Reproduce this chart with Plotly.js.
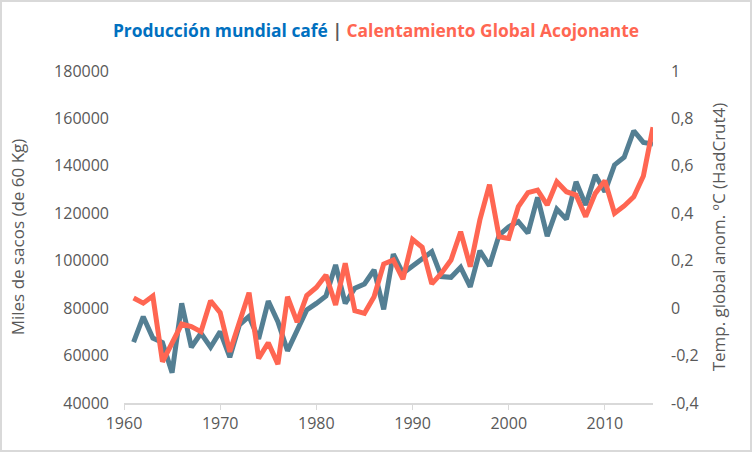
<!DOCTYPE html>
<html>
<head>
<meta charset="utf-8">
<script src="https://cdn.plot.ly/plotly-3.0.1.min.js"></script>
<style>html,body{margin:0;padding:0;background:#fff;}#chart{width:752px;height:452px;}</style>
</head>
<body>
<div id="chart"></div>
<script>
const years = [1961,1962,1963,1964,1965,1966,1967,1968,1969,1970,1971,1972,1973,1974,1975,1976,1977,1978,1979,1980,1981,1982,1983,1984,1985,1986,1987,1988,1989,1990,1991,1992,1993,1994,1995,1996,1997,1998,1999,2000,2001,2002,2003,2004,2005,2006,2007,2008,2009,2010,2011,2012,2013,2014,2015];
const coffeeProduction = [65700,76400,67400,65500,52800,82000,63500,69400,63500,70100,59300,73000,76500,67000,83000,74300,62000,70800,79200,82000,85100,98200,82000,88400,90200,96100,79500,102800,94700,97800,100600,103800,93300,93000,97200,89000,104200,97800,110800,114300,116500,111600,126700,110400,121700,117500,133300,123500,136100,129100,140400,143600,154800,149900,149200];
const tempAnomaly = [0.043,0.021,0.051,-0.226,-0.147,-0.067,-0.078,-0.099,0.031,-0.019,-0.184,-0.060,0.065,-0.212,-0.146,-0.236,0.048,-0.059,0.053,0.087,0.140,0.013,0.189,-0.011,-0.022,0.048,0.186,0.203,0.122,0.290,0.257,0.102,0.147,0.203,0.322,0.175,0.372,0.521,0.301,0.294,0.428,0.487,0.498,0.435,0.533,0.491,0.477,0.386,0.484,0.537,0.400,0.431,0.470,0.557,0.763];
const xTickVals = [1960,1970,1980,1990,2000,2010];
const coffeeTickVals = [40000,60000,80000,100000,120000,140000,160000,180000];
const tempTickVals = [-0.4,-0.2,0,0.2,0.4,0.6,0.8,1];
const tempTickText = ['-0,4','-0,2','0','0,2','0,4','0,6','0,8','1'];

const W = 752, H = 452;
const M = {l:124, r:99, t:71, b:49, pad:0};
const pw = W - M.l - M.r, ph = H - M.t - M.b;
const FONT = 'Open Sans, Noto Sans, sans-serif';
const GREY = '#595959';

const traces = [
  {x: years, y: coffeeProduction, type:'scatter', mode:'lines', name:'Producción mundial café',
   line:{color:'#547f93', width:5}, yaxis:'y'},
  {x: years, y: tempAnomaly, type:'scatter', mode:'lines', name:'Calentamiento Global Acojonante',
   line:{color:'#ff6652', width:5}, yaxis:'y2'}
];

const layout = {
  width: W, height: H, margin: M,
  paper_bgcolor:'#fff', plot_bgcolor:'#fff',
  showlegend:false,
  font:{family:FONT, color:GREY, size:16},
  title:{
    text:'<b><span style="color:#0070c0">Producción mundial café</span> <span style="color:#595959">|</span> <span style="color:#ff6652">Calentamiento Global Acojonante</span></b>',
    font:{family:FONT, size:17.4}, x:0.5, xanchor:'center', y:1-31/H, yanchor:'middle', yref:'container', xref:'container'
  },
  xaxis:{
    range:[1960,2015], tickvals:xTickVals, ticks:'outside', ticklen:5, tickcolor:'#d9d9d9',
    showline:true, linecolor:'#d9d9d9', linewidth:1.5, showgrid:false, zeroline:false,
    tickfont:{family:FONT, size:16, color:GREY}
  },
  yaxis:{
    range:[40000,180000], tickvals:coffeeTickVals, tickformat:'d', showgrid:false, zeroline:false,
    showline:false, ticks:'', ticklabelstandoff:14,
    tickfont:{family:FONT, size:16, color:GREY},
    title:{text:'Miles de sacos (de 60 Kg)', font:{family:FONT, size:17, color:GREY}, standoff:25}
  },
  yaxis2:{
    range:[-0.4,1], tickvals:tempTickVals, ticktext:tempTickText, overlaying:'y', side:'right',
    showgrid:false, zeroline:false, showline:false, ticks:'', ticklabelstandoff:17,
    tickfont:{family:FONT, size:16, color:GREY},
    title:{text:'Temp. global anom. ºC (HadCrut4)', font:{family:FONT, size:17, color:GREY}, standoff:15}
  },
  shapes:[{
    type:'rect', xref:'paper', yref:'paper', layer:'above',
    x0:(-M.l+1)/pw, x1:1+(M.r-1)/pw, y0:(-M.b+1)/ph, y1:1+(M.t-1)/ph,
    line:{color:'#d9d9d9', width:2}, fillcolor:'rgba(0,0,0,0)'
  }]
};

Plotly.newPlot('chart', traces, layout, {displayModeBar:false, staticPlot:true});
</script>
</body>
</html>
